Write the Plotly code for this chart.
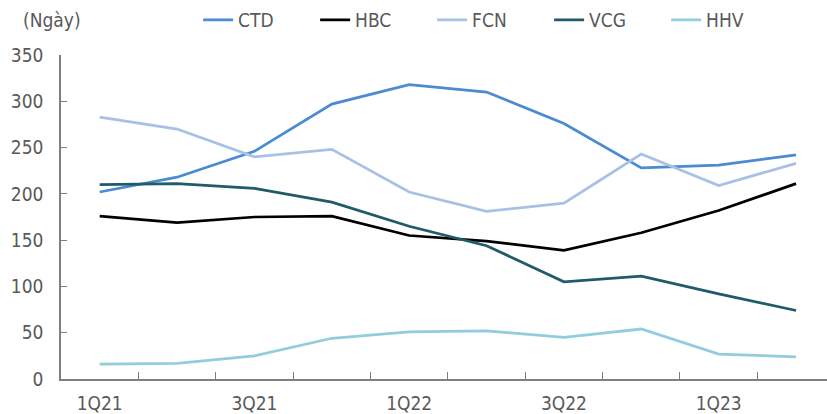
import plotly.graph_objects as go

# Quarterly days metric per company
quarters = ["1Q21", "2Q21", "3Q21", "4Q21", "1Q22", "2Q22", "3Q22", "4Q22", "1Q23", "2Q23"]
ctd = [202, 218, 246, 297, 318, 310, 276, 228, 231, 242]
hbc = [176, 169, 175, 176, 155, 149, 139, 158, 182, 211]
fcn = [283, 270, 240, 248, 202, 181, 190, 243, 209, 233]
vcg = [210, 211, 206, 191, 165, 144, 105, 111, 92, 74]
hhv = [16, 17, 25, 44, 51, 52, 45, 54, 27, 24]

names = ["CTD", "HBC", "FCN", "VCG", "HHV"]
values = [ctd, hbc, fcn, vcg, hhv]
colors = ["#4a8bd1", "#000000", "#a9c0e6", "#1f5b69", "#92cddd"]

FONT = "Liberation Sans Narrow, DejaVu Sans Condensed, Arial Narrow, sans-serif"
TEXT = "#595959"
AXIS = "#7f7f7f"

idx = list(range(len(quarters)))

fig = go.Figure()
for name, vals, color in zip(names, values, colors):
    fig.add_trace(go.Scatter(
        x=idx, y=vals, mode="lines", name=name,
        line=dict(color=color, width=2.75),
    ))

fig.update_layout(
    width=827, height=414,
    margin=dict(l=61, r=0, t=55, b=35),
    paper_bgcolor="white", plot_bgcolor="white",
    font=dict(family=FONT, size=19, color=TEXT),
    showlegend=True,
    legend=dict(
        orientation="h", x=0.179, xanchor="left", y=1.108, yanchor="middle",
        entrywidth=72, entrywidthmode="pixels",
        font=dict(family=FONT, size=19, color=TEXT),
        bgcolor="rgba(0,0,0,0)", tracegroupgap=0, itemclick=False,
    ),
    annotations=[dict(
        text="(Ngày)", xref="paper", yref="paper",
        x=(52 - 61) / 766, y=(379 - 20) / 324, xanchor="center", yanchor="middle",
        showarrow=False, font=dict(family=FONT, size=19, color=TEXT),
    )],
)

fig.update_xaxes(
    range=[-0.5, 9.4], automargin=False,
    tickmode="array", tickvals=idx[::2], ticktext=quarters[::2],
    ticks="", ticklabelstandoff=6,
    minor=dict(tickmode="array", tickvals=[i + 0.5 for i in idx[:-1]],
               ticks="inside", ticklen=7, tickcolor=AXIS, tickwidth=1),
    showline=True, linecolor=AXIS, linewidth=1.5,
    showgrid=False, zeroline=False,
)
fig.update_yaxes(
    range=[0, 350], dtick=50, tick0=0, automargin=False,
    ticks="inside", ticklen=6, tickcolor=AXIS, tickwidth=1,
    ticklabelstandoff=12,
    showline=True, linecolor=AXIS, linewidth=1.5,
    showgrid=False, zeroline=False,
)

fig.write_html("out.html")
